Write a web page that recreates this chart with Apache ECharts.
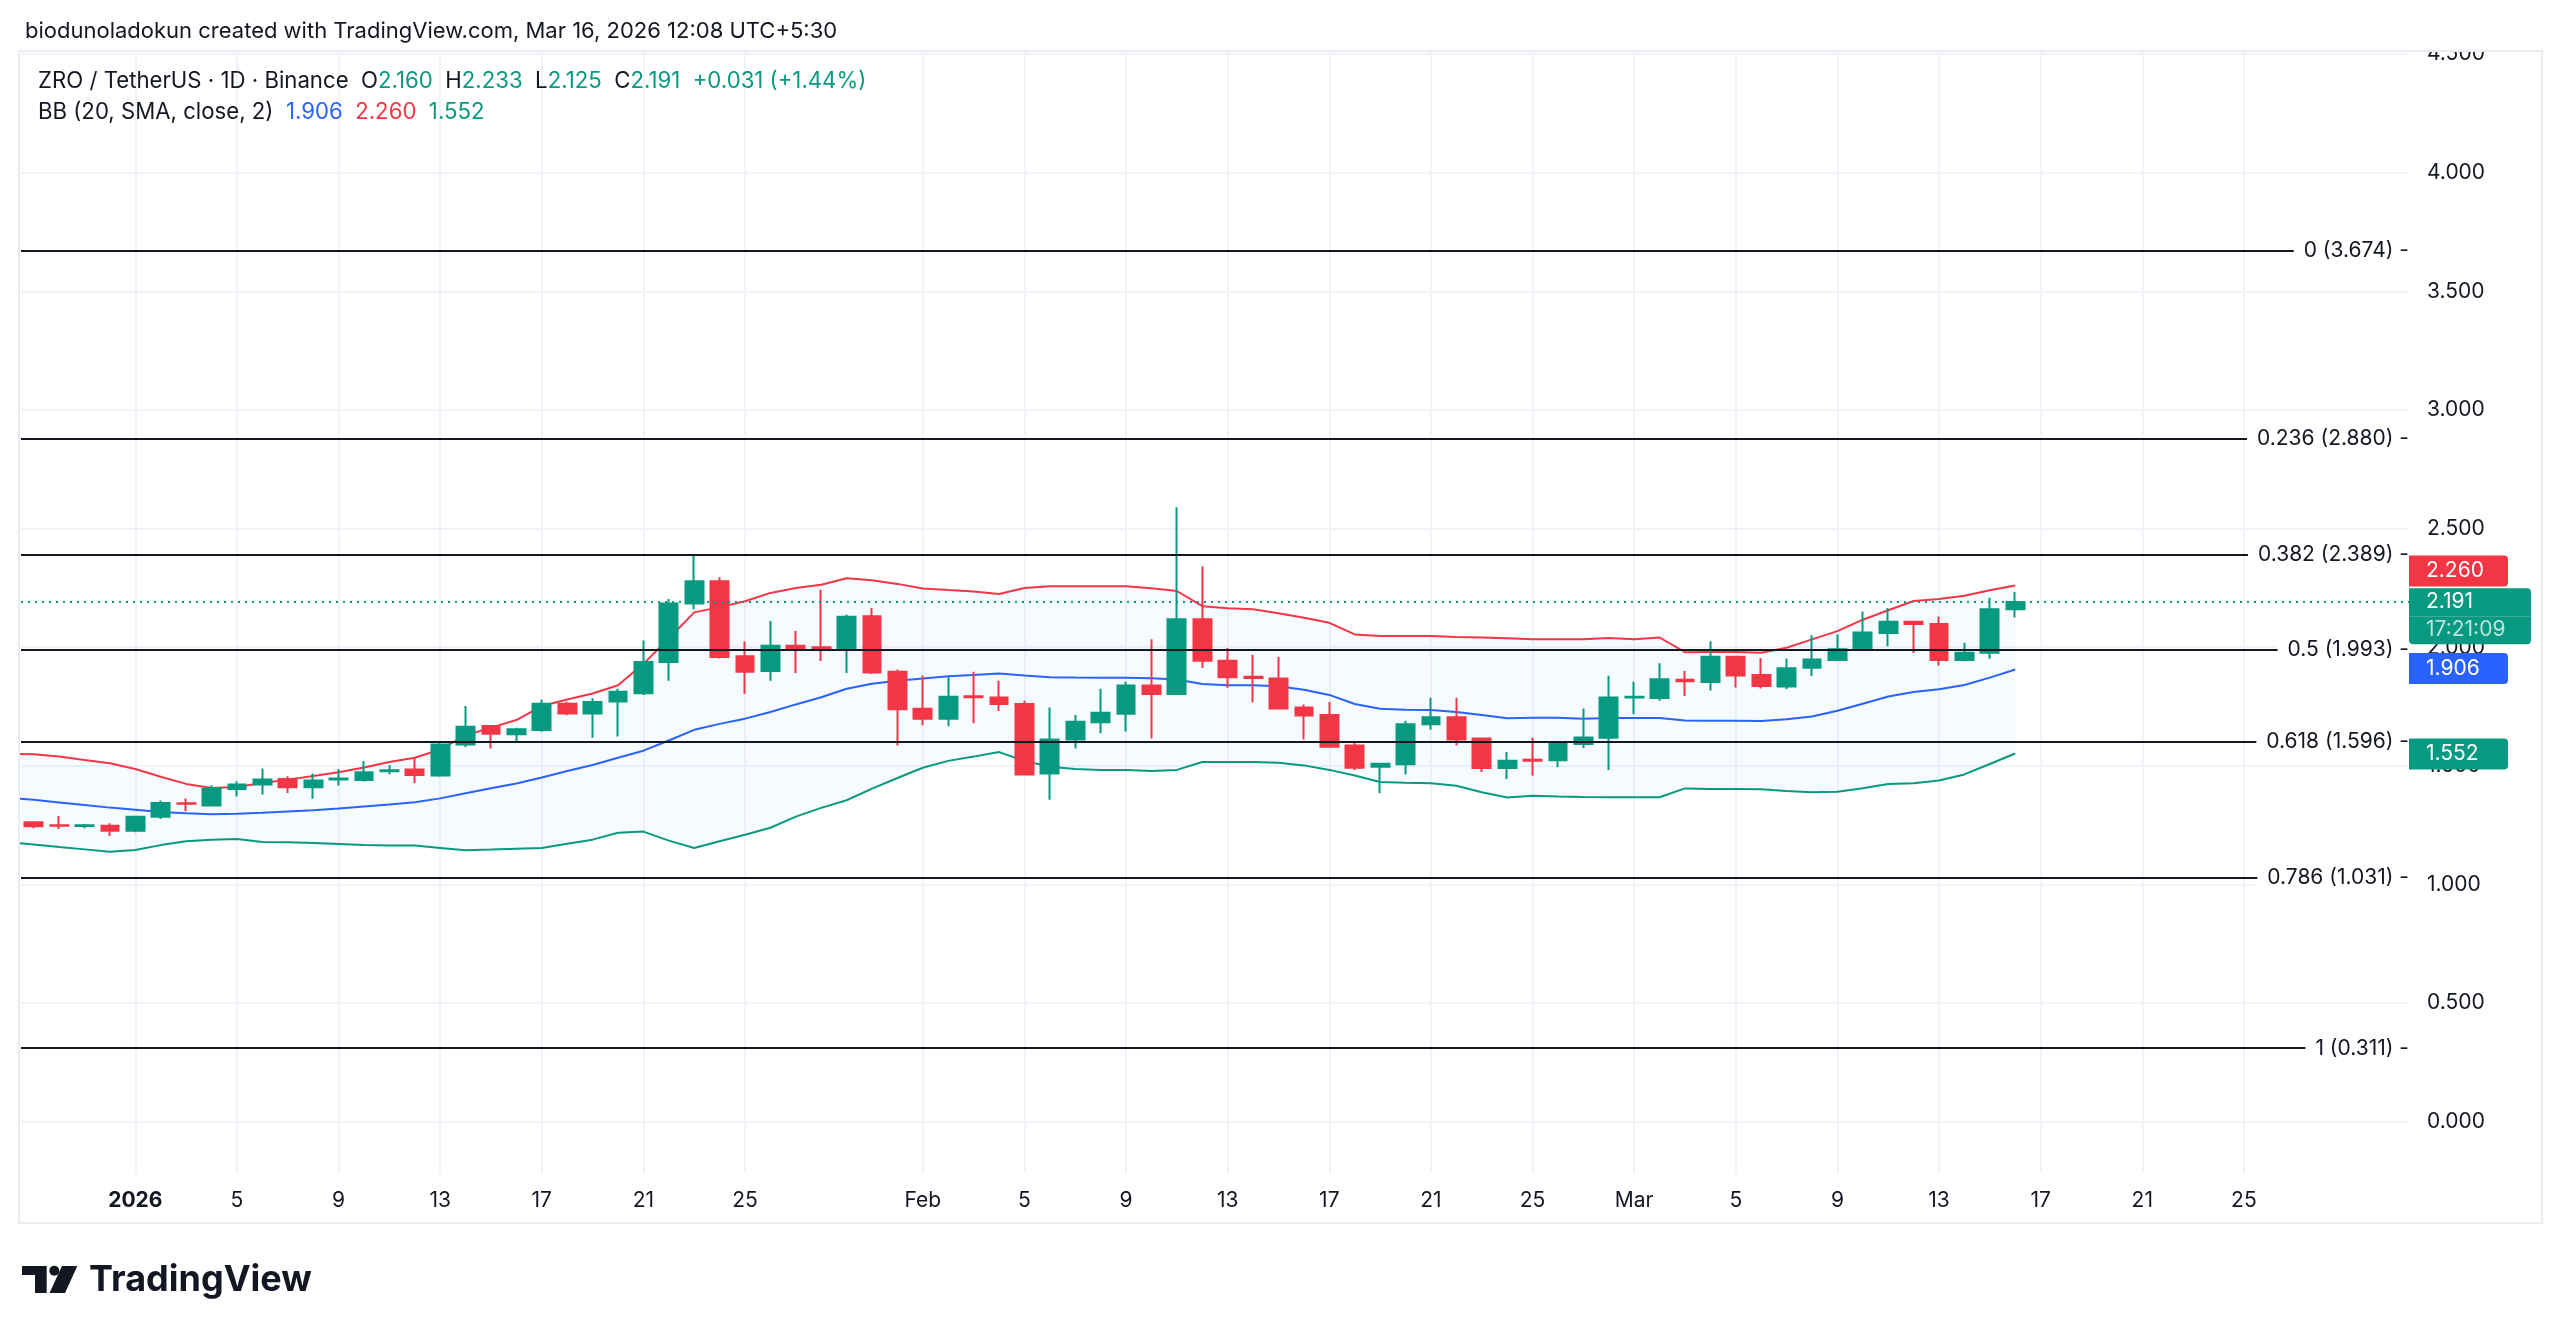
<!DOCTYPE html>
<html>
<head>
<meta charset="utf-8">
<title>ZRO / TetherUS · 1D · Binance</title>
<script src="https://cdn.jsdelivr.net/npm/echarts@6/dist/echarts.min.js"></script>
<style>
  html, body { margin: 0; padding: 0; background: #ffffff; }
  #chart { width: 2560px; height: 1336px; }
</style>
</head>
<body>
<div id="chart"></div>
<script>
// 日线坐标轴 2025-12-27 ~ 2026-03-31（12-27 只露出布林带的一小段）
var firstDay = '2025-12-27';
var axisDays = 95;

// K 线 2025-12-28 ~ 2026-03-16
var opens = [
  1.262, 1.250, 1.247, 1.248,
  1.227, 1.285, 1.342, 1.333, 1.402, 1.421, 1.445, 1.410, 1.443, 1.440, 1.477, 1.485, 1.459, 1.590, 1.668, 1.633,
  1.651, 1.762, 1.721, 1.771, 1.806, 1.938, 2.184, 2.278, 1.962, 1.900, 2.006, 2.000, 1.991, 2.131, 1.897,
  1.741, 1.699, 1.793, 1.788, 1.761, 1.468, 1.611, 1.684, 1.720, 1.839, 1.803, 2.118, 1.943, 1.876, 1.868,
  1.746, 1.714, 1.586, 1.496, 1.507, 1.675, 1.705, 1.615, 1.491, 1.526, 1.524, 1.592, 1.618,
  1.788, 1.786, 1.863, 1.853, 1.960, 1.883, 1.834, 1.913, 1.946, 1.990, 2.060, 2.107, 2.098, 1.946, 1.977, 2.160
];
var closes = [
  1.245, 1.248, 1.250, 1.227,
  1.286, 1.344, 1.340, 1.404, 1.421, 1.442, 1.410, 1.438, 1.447, 1.473, 1.482, 1.461, 1.590, 1.665, 1.635, 1.654,
  1.762, 1.721, 1.769, 1.812, 1.938, 2.184, 2.278, 1.959, 1.897, 2.006, 1.996, 1.991, 2.128, 1.893, 1.739,
  1.699, 1.791, 1.789, 1.761, 1.464, 1.611, 1.686, 1.724, 1.839, 1.803, 2.118, 1.943, 1.873, 1.870, 1.742,
  1.712, 1.581, 1.492, 1.509, 1.675, 1.705, 1.611, 1.491, 1.522, 1.522, 1.592, 1.620, 1.788,
  1.791, 1.865, 1.857, 1.960, 1.881, 1.837, 1.911, 1.948, 1.991, 2.062, 2.107, 2.098, 1.946, 1.977, 2.160, 2.191
];
var lows = [
  1.237, 1.234, 1.237, 1.204,
  1.220, 1.276, 1.309, 1.330, 1.371, 1.379, 1.386, 1.361, 1.417, 1.434, 1.465, 1.428, 1.454, 1.580, 1.573, 1.597,
  1.644, 1.713, 1.619, 1.624, 1.799, 1.859, 2.160, 1.953, 1.803, 1.859, 1.891, 1.942, 1.891, 1.887, 1.586,
  1.671, 1.667, 1.680, 1.731, 1.460, 1.357, 1.573, 1.637, 1.645, 1.615, 1.800, 1.912, 1.829, 1.767, 1.738,
  1.611, 1.577, 1.483, 1.385, 1.464, 1.652, 1.586, 1.474, 1.445, 1.459, 1.494, 1.575, 1.483,
  1.718, 1.774, 1.794, 1.818, 1.830, 1.826, 1.824, 1.879, 1.942, 1.986, 2.004, 1.976, 1.923, 1.941, 1.951, 2.125
];
var highs = [
  1.262, 1.289, 1.255, 1.258,
  1.289, 1.354, 1.362, 1.418, 1.435, 1.489, 1.456, 1.468, 1.487, 1.520, 1.503, 1.534, 1.604, 1.752, 1.668, 1.661,
  1.780, 1.770, 1.785, 1.825, 2.028, 2.203, 2.392, 2.295, 2.024, 2.111, 2.068, 2.242, 2.137, 2.165, 1.906,
  1.881, 1.874, 1.897, 1.859, 1.774, 1.746, 1.714, 1.825, 1.855, 2.034, 2.590, 2.340, 1.997, 1.968, 1.959,
  1.759, 1.769, 1.596, 1.509, 1.690, 1.787, 1.787, 1.618, 1.558, 1.618, 1.596, 1.742, 1.880,
  1.854, 1.933, 1.900, 2.025, 1.963, 1.955, 1.953, 2.051, 2.054, 2.151, 2.165, 2.107, 2.130, 2.019, 2.209, 2.233
];

// 布林带 BB (20, SMA, close, 2)，2025-12-27 ~ 2026-03-16
var bbUpper = [
  1.551, 1.549, 1.539, 1.525, 1.511,
  1.487, 1.454, 1.424, 1.407, 1.411, 1.428, 1.442, 1.457, 1.473, 1.493, 1.516, 1.534, 1.569, 1.628, 1.661, 1.693,
  1.752, 1.780, 1.805, 1.840, 1.930, 2.037, 2.147, 2.169, 2.194, 2.229, 2.250, 2.263, 2.291, 2.282, 2.267,
  2.248, 2.241, 2.235, 2.224, 2.250, 2.257, 2.257, 2.257, 2.257, 2.249, 2.237, 2.173, 2.164, 2.160, 2.143,
  2.124, 2.103, 2.054, 2.047, 2.047, 2.047, 2.043, 2.041, 2.038, 2.034, 2.034, 2.034, 2.039,
  2.034, 2.041, 1.979, 1.980, 1.980, 1.977, 1.998, 2.033, 2.068, 2.116, 2.156, 2.195, 2.203, 2.217, 2.240, 2.260
];
var bbBasis = [
  1.366, 1.357, 1.346, 1.335, 1.324,
  1.315, 1.306, 1.300, 1.296, 1.298, 1.302, 1.308, 1.313, 1.320, 1.329, 1.337, 1.347, 1.363, 1.385, 1.406, 1.426,
  1.451, 1.478, 1.504, 1.534, 1.564, 1.607, 1.652, 1.677, 1.699, 1.727, 1.759, 1.789, 1.825, 1.846, 1.859,
  1.868, 1.878, 1.883, 1.889, 1.881, 1.874, 1.872, 1.871, 1.871, 1.869, 1.864, 1.845, 1.840, 1.840, 1.836,
  1.821, 1.799, 1.761, 1.741, 1.737, 1.735, 1.727, 1.714, 1.701, 1.703, 1.703, 1.699, 1.702,
  1.702, 1.702, 1.691, 1.690, 1.690, 1.689, 1.696, 1.708, 1.732, 1.762, 1.792, 1.811, 1.823, 1.841, 1.872, 1.906
];
var bbLower = [
  1.178, 1.169, 1.158, 1.148, 1.138,
  1.145, 1.166, 1.182, 1.189, 1.192, 1.179, 1.178, 1.175, 1.171, 1.166, 1.164, 1.164, 1.154, 1.144, 1.147, 1.151,
  1.154, 1.172, 1.189, 1.218, 1.223, 1.185, 1.154, 1.182, 1.210, 1.239, 1.286, 1.323, 1.355, 1.404, 1.449,
  1.492, 1.521, 1.539, 1.558, 1.521, 1.496, 1.487, 1.483, 1.483, 1.478, 1.483, 1.516, 1.516, 1.516, 1.513,
  1.502, 1.483, 1.459, 1.432, 1.429, 1.427, 1.416, 1.389, 1.367, 1.374, 1.371, 1.369, 1.368,
  1.368, 1.368, 1.405, 1.403, 1.403, 1.401, 1.394, 1.389, 1.391, 1.406, 1.424, 1.427, 1.438, 1.464, 1.508, 1.552
];

// 斐波那契回撤
var fibRatios = ['0', '0.236', '0.382', '0.5', '0.618', '0.786', '1'];
var fibPrices = [3.674, 2.880, 2.389, 1.993, 1.596, 1.031, 0.311];

// x 轴刻度
var tickDays = [
  '2026-01-01', '2026-01-05', '2026-01-09', '2026-01-13', '2026-01-17', '2026-01-21', '2026-01-25',
  '2026-02-01', '2026-02-05', '2026-02-09', '2026-02-13', '2026-02-17', '2026-02-21', '2026-02-25',
  '2026-03-01', '2026-03-05', '2026-03-09', '2026-03-13', '2026-03-17', '2026-03-21', '2026-03-25'
];
var tickLabels = ['2026', '5', '9', '13', '17', '21', '25', 'Feb', '5', '9', '13', '17', '21', '25',
  'Mar', '5', '9', '13', '17', '21', '25'];

var countdown = '17:21:09';
var headerText = 'biodunoladokun created with TradingView.com, Mar 16, 2026 12:08 UTC+5:30';

var FONT = 'Inter, "Noto Sans", sans-serif';
var TEXT = '#131722';
var UP = '#089981', DOWN = '#F23645', BLUE = '#2962FF';

// 构建类目与 K 线数据（第 0 个类目 12-27 没有 K 线）
var categories = [];
var t0 = new Date(firstDay + 'T00:00:00Z').getTime();
for (var i = 0; i < axisDays; i++) {
  categories.push(new Date(t0 + i * 86400000).toISOString().slice(0, 10));
}
var candles = [['-', '-', '-', '-']].concat(opens.map(function(o, i) { return [o, closes[i], lows[i], highs[i]]; }));
var bandSpan = bbUpper.map(function(u, i) { return +(u - bbLower[i]).toFixed(3); });
var last = opens.length - 1;
var bbLast = bbUpper.length - 1;
var change = closes[last] - closes[last - 1];

function isTick(index, value) { return tickDays.indexOf(value) >= 0; }
function f3(v) { return v.toFixed(3); }

// 右侧价格标签
function tagLabel(color, text) {
  return {
    show: true, position: 'end', distance: 0,
    formatter: text,
    rich: {
      p: { color: '#fff', backgroundColor: color, fontSize: 21, fontFamily: FONT,
           width: 82, height: 31, lineHeight: 31, padding: [0, 0, 0, 17], borderRadius: [0, 4, 4, 0] },
      sp: { fontSize: 21, height: 29, lineHeight: 29, color: 'transparent' }
    }
  };
}

var chart = echarts.init(document.getElementById('chart'));

chart.setOption({
  animation: false,
  backgroundColor: '#FFFFFF',
  textStyle: { fontFamily: FONT },
  title: [
    { text: headerText, left: 20, top: 15, textStyle: { fontSize: 22, fontWeight: 'normal', color: TEXT, fontFamily: FONT } },
    {
      left: 33, top: 65,
      text: '{t|ZRO / TetherUS · 1D · Binance}  {t|O}{u|' + f3(opens[last]) + '}  {t|H}{u|' + f3(highs[last]) +
        '}  {t|L}{u|' + f3(lows[last]) + '}  {t|C}{u|' + f3(closes[last]) + '}  {u|+' + f3(change) +
        ' (+' + (change / closes[last - 1] * 100).toFixed(2) + '%)}',
      textStyle: {
        fontSize: 22.2, fontWeight: 'normal', color: TEXT,
        rich: { t: { fontSize: 22.2, color: TEXT, fontFamily: FONT }, u: { fontSize: 22.2, color: UP, fontFamily: FONT } }
      }
    },
    {
      left: 33, top: 96,
      text: '{t|BB (20, SMA, close, 2)}  {b|' + f3(bbBasis[bbLast]) + '}  {r|' + f3(bbUpper[bbLast]) + '}  {g|' + f3(bbLower[bbLast]) + '}',
      textStyle: {
        fontSize: 22.2, fontWeight: 'normal', color: TEXT,
        rich: {
          t: { fontSize: 22.2, color: TEXT, fontFamily: FONT },
          b: { fontSize: 22.2, color: BLUE, fontFamily: FONT },
          r: { fontSize: 22.2, color: DOWN, fontFamily: FONT },
          g: { fontSize: 22.2, color: UP, fontFamily: FONT }
        }
      }
    }
  ],
  grid: { left: 21, right: 151, top: 51, bottom: 163, outerBoundsMode: 'none' },
  xAxis: {
    type: 'category',
    data: categories,
    min: 1,
    boundaryGap: true,
    axisLine: { show: false },
    axisTick: { show: false },
    axisLabel: {
      interval: isTick, margin: 17, color: TEXT, fontSize: 21, fontFamily: FONT,
      formatter: function(v) {
        var k = tickDays.indexOf(v);
        return k === 0 ? '{y|' + tickLabels[k] + '}' : tickLabels[k];
      },
      rich: { y: { fontWeight: 'bold', fontSize: 21, color: TEXT, fontFamily: FONT } }
    },
    splitLine: { show: true, interval: isTick, alignWithLabel: true, lineStyle: { color: '#f0f3fa', width: 2 } }
  },
  yAxis: {
    type: 'value',
    position: 'right',
    min: -0.216, max: 4.513, splitNumber: 9,
    axisLine: { show: false },
    axisTick: { show: false },
    splitLine: { showMinLine: false, showMaxLine: false, lineStyle: { color: '#f0f3fa', width: 2 } },
    axisLabel: { margin: 18, color: TEXT, fontSize: 21, fontFamily: FONT, showMinLabel: false, showMaxLabel: false,
      formatter: function(v) { return v.toFixed(3); } }
  },
  series: [
    {
      name: 'bbBase', type: 'line', stack: 'bb', data: bbLower, symbol: 'none', silent: true,
      lineStyle: { width: 0 }, z: 1
    },
    {
      name: 'bbFill', type: 'line', stack: 'bb', data: bandSpan, symbol: 'none', silent: true,
      lineStyle: { width: 0 }, areaStyle: { color: 'rgba(33,150,243,0.055)' }, z: 1
    },
    {
      name: 'Upper', type: 'line', data: bbUpper, symbol: 'none', silent: true,
      lineStyle: { color: DOWN, width: 2 }, z: 2,
      markLine: {
        symbol: 'none', silent: true, lineStyle: { width: 0 },
        data: [{ yAxis: bbUpper[bbLast], label: tagLabel(DOWN, '{p|' + f3(bbUpper[bbLast]) + '}\n{sp| }') }]
      }
    },
    {
      name: 'Basis', type: 'line', data: bbBasis, symbol: 'none', silent: true,
      lineStyle: { color: BLUE, width: 2 }, z: 2,
      markLine: {
        symbol: 'none', silent: true, lineStyle: { width: 0 },
        data: [{ yAxis: bbBasis[bbLast], label: tagLabel(BLUE, '{p|' + f3(bbBasis[bbLast]) + '}') }]
      }
    },
    {
      name: 'Lower', type: 'line', data: bbLower, symbol: 'none', silent: true,
      lineStyle: { color: UP, width: 2 }, z: 2,
      markLine: {
        symbol: 'none', silent: true, lineStyle: { width: 0 },
        data: [{ yAxis: bbLower[bbLast], label: tagLabel(UP, '{p|' + f3(bbLower[bbLast]) + '}') }]
      }
    },
    {
      name: 'ZRO', type: 'candlestick', data: candles, barWidth: '72%', z: 3,
      itemStyle: { color: UP, color0: DOWN, borderColor: UP, borderColor0: DOWN, borderWidth: 2 },
      markLine: {
        symbol: 'none', silent: true,
        lineStyle: { color: UP, type: [2, 5], width: 2 },
        data: [{ yAxis: closes[last] }],
        label: {
          show: true, position: 'end', distance: 0,
          formatter: '{sp| }\n{a|' + f3(closes[last]) + '}\n{b|' + countdown + '}',
          rich: {
            sp: { fontSize: 21, height: 28, lineHeight: 28, color: 'transparent' },
            a: { color: '#fff', backgroundColor: UP, fontSize: 21, fontFamily: FONT, width: 105, height: 28, lineHeight: 28,
                 padding: [0, 0, 0, 17], borderRadius: [0, 4, 0, 0] },
            b: { color: 'rgba(255,255,255,0.72)', backgroundColor: UP, fontSize: 21, fontFamily: FONT, width: 105, height: 28,
                 lineHeight: 28, padding: [0, 0, 0, 17], borderRadius: [0, 0, 4, 4] }
          }
        }
      }
    },
    {
      name: 'Fib', type: 'line', data: [], z: 4, silent: true,
      markLine: {
        symbol: 'none', silent: true,
        lineStyle: { color: '#131722', type: 'solid', width: 2 },
        label: {
          show: true, position: 'insideEnd', distance: 0, color: TEXT, fontSize: 21, fontFamily: FONT,
          backgroundColor: '#ffffff', padding: [3, 0, 3, 10]
        },
        data: fibPrices.map(function(p, i) {
          return { yAxis: p, label: { formatter: fibRatios[i] + ' (' + f3(p) + ') -' } };
        })
      }
    }
  ],
  graphic: [
    { type: 'rect', silent: true, z: 100, shape: { x: 2412, y: 0, width: 148, height: 50 }, style: { fill: '#ffffff' } },
    { type: 'rect', silent: true, z: 101, shape: { x: 19, y: 51, width: 2523, height: 1172 },
      style: { fill: 'none', stroke: '#e9ecf1', lineWidth: 2 } },
    {
      type: 'group', x: 22, y: 1266, silent: true, children: [
        { type: 'polygon', shape: { points: [[0, 0], [24.7, 0], [24.7, 27], [13, 27], [13, 9], [0, 9]] }, style: { fill: '#131722' } },
        { type: 'circle', shape: { cx: 32.3, cy: 4.8, r: 5 }, style: { fill: '#131722' } },
        { type: 'polygon', shape: { points: [[40, 0], [55.3, 0], [43, 27], [27.5, 27]] }, style: { fill: '#131722' } }
      ]
    },
    { type: 'text', silent: true, x: 89, y: 1262,
      style: { text: 'TradingView', fill: '#131722', font: 'bold 36px ' + FONT } }
  ]
});
</script>
</body>
</html>
